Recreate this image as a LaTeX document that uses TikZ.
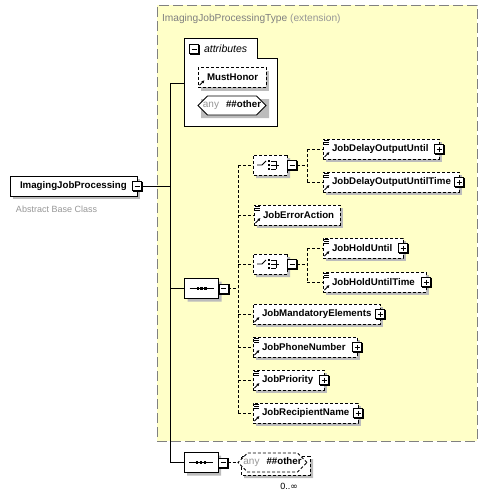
\documentclass[tikz,border=0pt]{standalone}
\usepackage{fontspec}
\setmainfont{Liberation Sans}
\newfontfamily\symfont{DejaVu Sans}
\usetikzlibrary{shapes.misc,arrows.meta}
\definecolor{ylw}{RGB}{255,255,200}
\definecolor{framegray}{RGB}{128,128,128}
\definecolor{shgray}{RGB}{188,188,188}
\definecolor{titlegray}{RGB}{128,128,128}
\definecolor{lgray}{RGB}{150,150,150}
\newcommand\ef{\fontsize{9.7}{11}\selectfont\bfseries}
\newcommand\anytxt{{\color{lgray}\fontsize{10}{12}\selectfont any}\hspace{7pt}{\ef\#\#other}}
% element box with its drop shadow: style, name, left x, centre y, width, text
\newcommand\elemnode[6]{%
 \fill[shgray] ({#3+3},{#4-7}) rectangle ({#3+#5+3},{#4+13});
 \node[#1, text width=#5pt] (#2) at (#3,#4) {\hspace*{9pt}#6};}
% octagonal drop shadow: name, centre x, centre y, width, height
\newcommand\shoct[5]{\node[octa, draw=none, fill=shgray, minimum width=#4pt, minimum height=#5pt] (#1) at ({#2+3},{#3+3}) {};}
% dark edge of a plus/minus box
\newcommand\pmedge[1]{\draw[line width=1pt] ([shift={(1pt,0pt)}]#1.north east) -- ([shift={(1pt,-1pt)}]#1.south east) -- ([shift={(0pt,-1pt)}]#1.south west);}
\begin{document}
\begin{tikzpicture}[x=1pt,y=-1pt, line width=0.8pt,
 every node/.style={inner sep=0pt, outer sep=0pt},
 dsh/.style={dash pattern=on 3pt off 2pt},
 elem/.style={draw, dsh, fill=white, minimum height=20pt, anchor=west, align=left, font=\ef},
 mainelem/.style={draw, fill=white, minimum height=20pt, anchor=west, align=left, font=\ef},
 pmbox/.style={draw, fill=white, minimum size=9pt, line width=1pt},
 minusbox/.style={pmbox, path picture={\draw[line width=1pt] ([xshift=2pt]path picture bounding box.west) -- ([xshift=-2pt]path picture bounding box.east);}},
 plusbox/.style={pmbox, path picture={\draw[line width=1pt] ([xshift=2pt]path picture bounding box.west) -- ([xshift=-2pt]path picture bounding box.east) ([yshift=-2pt]path picture bounding box.north) -- ([yshift=2pt]path picture bounding box.south);}},
 octa/.style={chamfered rectangle, chamfered rectangle xsep=5pt, chamfered rectangle ysep=5pt, draw, fill=white, minimum width=34pt, minimum height=20pt},
 conn/.style={dsh, line width=0.8pt},
 icl/.pic={\draw[line width=0.8pt] (1,1.5) -- (6,1.5) (1,3.5) -- (6,3.5) (1,5.5) -- (6,5.5);},
 icr/.pic={\draw[line width=1pt, -{Latex[length=3pt,width=3.2pt]}] (1.5,-2) -- (6.5,-7);},
 icseq/.pic={\draw[line width=0.8pt] (-12,0) -- (12,0); \fill (-5,-1.2) rectangle (-2.6,1.2); \fill (-1.2,-1.2) rectangle (1.2,1.2); \fill (2.6,-1.2) rectangle (5,1.2);},
 icchoice/.pic={\draw[line width=0.8pt] (-13,0) -- (-8,0) -- (-4,-4); \fill (-2,-5) rectangle (0,-3); \fill (-2,-1) rectangle (0,1); \fill (-2,3) rectangle (0,5); \draw[line width=0.8pt] (1,-4) -- (6,-4) (1,0) -- (9,0) (1,4) -- (6,4) (6,-4) -- (6,4);}
]
\useasboundingbox (0,0) rectangle (488,498);

% extension container
\node[draw=framegray, fill=ylw, dash pattern=on 10pt off 4pt, line width=1pt, minimum width=320pt, minimum height=436pt, anchor=north west] (ext) at (157,5) {};
\node[anchor=west, font=\fontsize{10.2}{12}\selectfont, text=titlegray] (ttl) at (162,19) {ImagingJobProcessingType \textcolor{lgray}{(extension)}};

% main element
\fill[shgray] (13,179) rectangle (140,199);
\node[mainelem, text width=127pt] (main) at (10,186) {\hspace*{10pt}ImagingJobProcessing};
\node[minusbox] (mainm) at (main.east) {};
\pmedge{mainm}
\node[anchor=west, font=\fontsize{9}{11}\selectfont, text=lgray] (abc) at (16,209) {Abstract Base Class};

% attributes group
\node[minimum width=93pt, minimum height=68pt, anchor=north west] (attrbox) at (184,58) {};
\node[minimum width=73pt, minimum height=20pt, anchor=south west] (attrtab) at (attrbox.north west) {};
\draw[fill=white] (attrtab.north west) -- (attrtab.north east) -- (attrtab.south east) -- (attrbox.north east) -- (attrbox.south east) -- (attrbox.south west) -- cycle;
\node[minusbox] (attrm) at (194,49) {};
\pmedge{attrm}
\node[anchor=west, font=\fontsize{10.5}{12}\selectfont\itshape] (attrlbl) at (204,48.5) {attributes};
\fill[shgray] (201,71) rectangle (269,90.5);
\node[elem, text width=68pt, minimum height=19.5pt] (mh) at (198,77.5) {\hspace*{9pt}MustHonor};
\pic at (mh.south west) {icr};
\shoct{attranysh}{232}{105.5}{68}{19}
\node[octa, minimum width=68pt, minimum height=19pt] (attrany) at (232,105.5) {\anytxt};

% trunk
\coordinate (tr1) at (170,83);
\coordinate (tr2) at (170,186);
\coordinate (tr3) at (170,288.5);
\coordinate (tr4) at (170,462.5);
\draw (mainm.east) -- (tr2);
\draw (tr1) -- (tr4);
\draw (tr1) -- (tr1 -| attrbox.west);

% sequence 1
\shoct{seq1sh}{201.5}{288.5}{34}{20}
\node[octa] (seq1) at (201.5,288.5) {};
\pic at (seq1.center) {icseq};
\node[minusbox] (seq1m) at ([xshift=5pt]seq1.east) {};
\pmedge{seq1m}
\draw (tr3) -- (seq1.west);

% choice 1
\shoct{ch1sh}{270}{165}{34}{20}
\node[octa, dsh] (ch1) at (270,165) {};
\pic at (ch1.center) {icchoice};
\node[minusbox] (ch1m) at ([xshift=5pt]ch1.east) {};
\pmedge{ch1m}
\elemnode{elem}{jdou}{323}{149}{116}{JobDelayOutputUntil}
\node[plusbox] (jdoup) at (jdou.east) {};
\pmedge{jdoup}
\pic at (jdou.north west) {icl}; \pic at (jdou.south west) {icr};
\elemnode{elem}{jdout}{323}{182}{136}{JobDelayOutputUntilTime}
\node[plusbox] (jdoutp) at (jdout.east) {};
\pmedge{jdoutp}
\pic at (jdout.north west) {icl}; \pic at (jdout.south west) {icr};

% JobErrorAction
\elemnode{elem}{jea}{254}{215}{86}{JobErrorAction}
\pic at (jea.north west) {icl}; \pic at (jea.south west) {icr};

% choice 2
\shoct{ch2sh}{270}{264}{34}{20}
\node[octa, dsh] (ch2) at (270,264) {};
\pic at (ch2.center) {icchoice};
\node[minusbox] (ch2m) at ([xshift=5pt]ch2.east) {};
\pmedge{ch2m}
\elemnode{elem}{jhu}{323}{248}{80}{JobHoldUntil}
\node[plusbox] (jhup) at (jhu.east) {};
\pmedge{jhup}
\pic at (jhu.north west) {icl}; \pic at (jhu.south west) {icr};
\elemnode{elem}{jhut}{323}{282}{103}{JobHoldUntilTime}
\node[plusbox] (jhutp) at (jhut.east) {};
\pmedge{jhutp}
\pic at (jhut.north west) {icl}; \pic at (jhut.south west) {icr};

% remaining elements
\elemnode{elem}{jme}{253}{314}{127}{JobMandatoryElements}
\node[plusbox] (jmep) at (jme.east) {};
\pmedge{jmep}
\pic at (jme.south west) {icr};
\elemnode{elem}{jpn}{253}{347}{104}{JobPhoneNumber}
\node[plusbox] (jpnp) at (jpn.east) {};
\pmedge{jpnp}
\pic at (jpn.north west) {icl}; \pic at (jpn.south west) {icr};
\elemnode{elem}{jp}{253}{380}{71}{JobPriority}
\node[plusbox] (jpp) at (jp.east) {};
\pmedge{jpp}
\pic at (jp.north west) {icl}; \pic at (jp.south west) {icr};
\elemnode{elem}{jrn}{253}{413}{105}{JobRecipientName}
\node[plusbox] (jrnp) at (jrn.east) {};
\pmedge{jrnp}
\pic at (jrn.north west) {icl}; \pic at (jrn.south west) {icr};

% dashed connectors of sequence 1
\coordinate (v1a) at (238,165);
\coordinate (v1b) at (238,413);
\draw[conn] (seq1m.east) -- (seq1m.east -| v1a);
\draw[conn] (v1a) -- (v1b);
\draw[conn] (v1a) -- (ch1.west);
\draw[conn] (jea.west -| v1a) -- (jea.west);
\draw[conn] (ch2.west -| v1a) -- (ch2.west);
\draw[conn] (jme.west -| v1a) -- (jme.west);
\draw[conn] (jpn.west -| v1a) -- (jpn.west);
\draw[conn] (jp.west -| v1a) -- (jp.west);
\draw[conn] (v1b) -- (jrn.west);

% choice connectors
\coordinate (v2a) at (307,149);
\coordinate (v2b) at (307,182);
\draw[conn] (ch1m.east) -- (ch1m.east -| v2a);
\draw[conn] (v2a) -- (v2b);
\draw[conn] (v2a) -- (jdou.west);
\draw[conn] (v2b) -- (jdout.west);
\coordinate (v3a) at (307,248);
\coordinate (v3b) at (307,282);
\draw[conn] (ch2m.east) -- (ch2m.east -| v3a);
\draw[conn] (v3a) -- (v3b);
\draw[conn] (v3a) -- (jhu.west);
\draw[conn] (v3b) -- (jhut.west);

% bottom sequence with any
\shoct{seq2sh}{201}{462.5}{34}{20}
\node[octa] (seq2) at (201,462.5) {};
\pic at (seq2.center) {icseq};
\node[minusbox] (seq2m) at ([xshift=5pt]seq2.east) {};
\pmedge{seq2m}
\draw (tr4) -- (seq2.west);
\shoct{anybsh}{275.5}{465.5}{69}{19}
\node[octa, dsh, minimum width=69pt, minimum height=19pt] (anyb) at (275.5,465.5) {};
\node[octa, dsh, minimum width=69pt, minimum height=19pt] (anyo) at (272.5,462.5) {\anytxt};
\draw[conn] (seq2m.east) -- (anyo.west);
\node[font=\fontsize{9}{11}\selectfont] (mult) at (289,486) {0..{\symfont\fontsize{9}{11}\selectfont ∞}};
\end{tikzpicture}
\end{document}
